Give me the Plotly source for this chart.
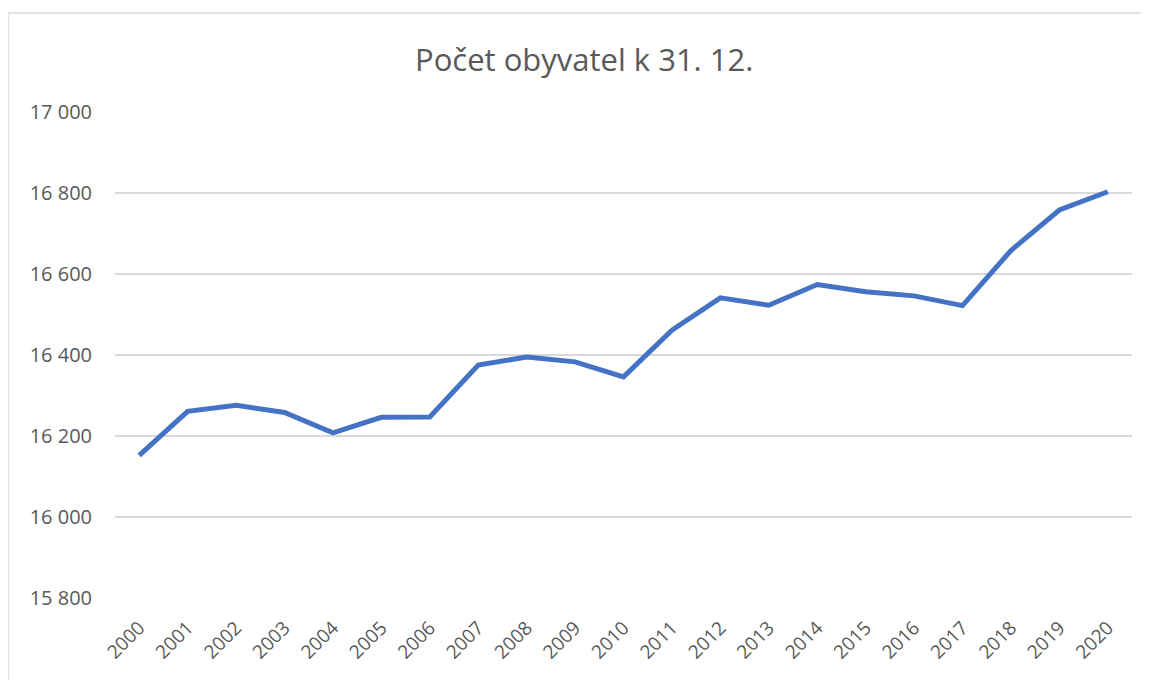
import plotly.graph_objects as go

# Počet obyvatel k 31. 12. (odhad z grafu)
roky = [str(r) for r in range(2000, 2021)]
obyvatel = [16152, 16261, 16276, 16258, 16208, 16246, 16247, 16375, 16395, 16383,
            16346, 16461, 16541, 16523, 16574, 16556, 16546, 16522, 16658, 16758, 16803]
y_ticks = [15800, 16000, 16200, 16400, 16600, 16800, 17000]

fig = go.Figure()
fig.add_trace(go.Scatter(
    x=roky, y=obyvatel, mode='lines',
    line=dict(color='#4472c4', width=5),
    hoverinfo='x+y'
))

fig.update_layout(
    width=1141, height=672,
    margin=dict(l=107, r=17, t=104, b=82),
    paper_bgcolor='white', plot_bgcolor='white',
    separators=', ',
    font=dict(family='Open Sans, Liberation Sans, sans-serif', color='#595959', size=19),
    title=dict(text='Počet obyvatel k 31. 12.', x=0.505, xanchor='center',
               y=0.922, yanchor='middle', font=dict(size=31, color='#595959')),
    showlegend=False,
    xaxis=dict(type='category', range=[-0.5, 20.5], tickangle=-45,
               showgrid=False, showline=False, ticks='', ticklabelstandoff=14,
               tickfont=dict(size=19)),
    yaxis=dict(range=[15800, 17000], tickvals=y_ticks, tickformat=',d',
               showgrid=True, gridcolor='#d9d9d9', gridwidth=1.5,
               zeroline=False, showline=False, ticks='', ticklabelstandoff=22,
               tickfont=dict(size=20)),
    shapes=[dict(type='rect', xref='paper', yref='paper',
                 x0=-0.1052, x1=1.0138, y0=-0.3, y1=1.2037,
                 line=dict(color='#d9d9d9', width=1.5), layer='below')]
)

fig.write_html("out.html")
